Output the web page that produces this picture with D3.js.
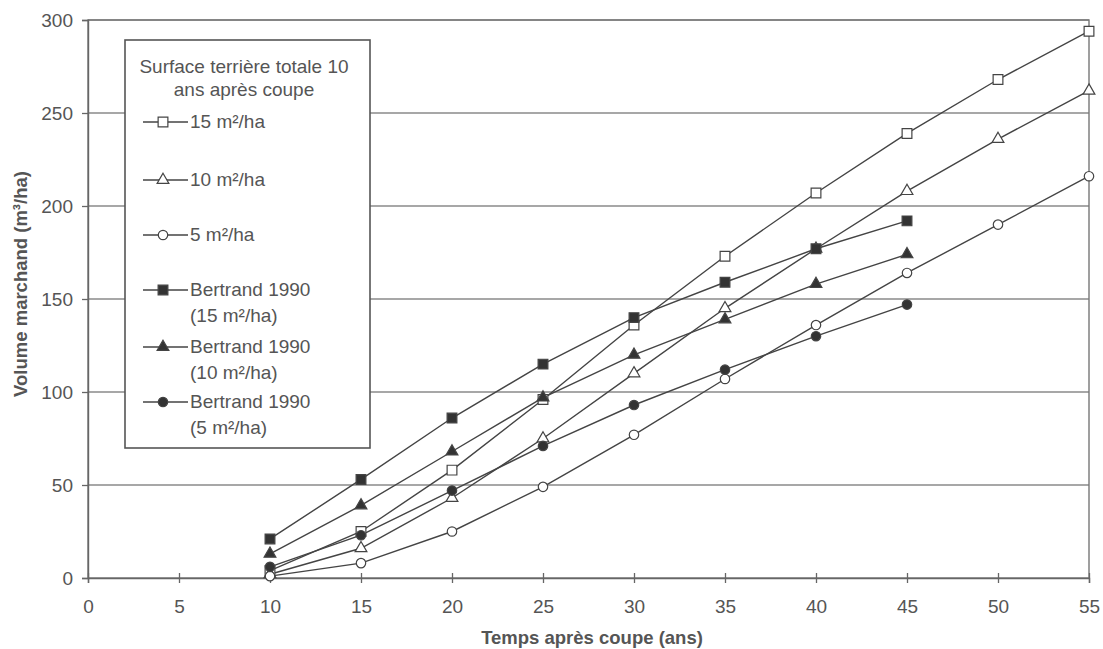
<!DOCTYPE html>
<html>
<head>
<meta charset="utf-8">
<script src="https://cdn.jsdelivr.net/npm/d3@7"></script>
<style>
  body { margin: 0; background: #fff; }
  svg text { font-family: "Liberation Sans", Arial, sans-serif; fill: #555; }
</style>
</head>
<body>
<svg id="chart" width="1103" height="649"></svg>
<script>
// values
var years = [10, 15, 20, 25, 30, 35, 40, 45, 50, 55];
var yearsBertrand = [10, 15, 20, 25, 30, 35, 40, 45];

var vol15 = [4, 25, 58, 96, 136, 173, 207, 239, 268, 294];
var vol10 = [2, 16, 43, 75, 110, 145, 177, 208, 236, 262];
var vol5 = [1, 8, 25, 49, 77, 107, 136, 164, 190, 216];
var bert15 = [21, 53, 86, 115, 140, 159, 177, 192];
var bert10 = [13, 39, 68, 97, 120, 139, 158, 174];
var bert5 = [6, 23, 47, 71, 93, 112, 130, 147];

var xTicks = [0, 5, 10, 15, 20, 25, 30, 35, 40, 45, 50, 55];
var yTicks = [0, 50, 100, 150, 200, 250, 300];

var series = [
  {label: ["15 m²/ha"], x: years, y: vol15, sym: d3.symbolSquare, filled: false},
  {label: ["10 m²/ha"], x: years, y: vol10, sym: d3.symbolTriangle, filled: false},
  {label: ["5 m²/ha"], x: years, y: vol5, sym: d3.symbolCircle, filled: false},
  {label: ["Bertrand 1990", "(15 m²/ha)"], x: yearsBertrand, y: bert15, sym: d3.symbolSquare, filled: true},
  {label: ["Bertrand 1990", "(10 m²/ha)"], x: yearsBertrand, y: bert10, sym: d3.symbolTriangle, filled: true},
  {label: ["Bertrand 1990", "(5 m²/ha)"], x: yearsBertrand, y: bert5, sym: d3.symbolCircle, filled: true}
];

var margin = {top: 20, right: 14, bottom: 71, left: 88},
    width = 1103 - margin.left - margin.right,
    height = 649 - margin.top - margin.bottom;

var svg = d3.select("#chart");
var chart = svg.append("g")
    .attr("transform", "translate(" + margin.left + "," + margin.top + ")");

var x = d3.scaleLinear().domain([0, 55]).range([0, width]);
var y = d3.scaleLinear().domain([0, 300]).range([height, 0]);

// gridlines
chart.selectAll(".grid")
    .data(yTicks.slice(1))
  .enter().append("line")
    .attr("x1", 0).attr("x2", width)
    .attr("y1", function(d) { return y(d); })
    .attr("y2", function(d) { return y(d); })
    .attr("stroke", "#8a8a8a")
    .attr("stroke-width", 1.4);

// frame
chart.append("rect")
    .attr("width", width).attr("height", height)
    .attr("fill", "none")
    .attr("stroke", "#777")
    .attr("stroke-width", 1.4);

var yAxis = d3.axisLeft(y).tickValues(yTicks).tickSize(6).tickPadding(9);
var xAxis = d3.axisBottom(x).tickValues(xTicks).tickSize(5).tickPadding(17);

var gy = chart.append("g").call(yAxis);
var gx = chart.append("g").attr("transform", "translate(0," + height + ")").call(xAxis);

[gy, gx].forEach(function(g) {
  g.select(".domain").attr("stroke", "#666").attr("stroke-width", 1.4);
  g.selectAll(".tick line").attr("stroke", "#666").attr("stroke-width", 1.3);
  g.selectAll(".tick text")
    .attr("fill", "#555")
    .style("font-size", "19px")
    .style("font-family", "Liberation Sans, Arial, sans-serif");
});
// x ticks cross the axis
gx.selectAll(".tick line").attr("y1", -5).attr("y2", 5);

// axis titles
svg.append("text")
    .attr("x", 592).attr("y", 644)
    .attr("text-anchor", "middle")
    .style("font-size", "18.5px").style("font-weight", "bold")
    .attr("fill", "#444")
    .text("Temps après coupe (ans)");

svg.append("text")
    .attr("transform", "translate(27,284) rotate(-90)")
    .attr("text-anchor", "middle")
    .style("font-size", "18.5px").style("font-weight", "bold")
    .attr("fill", "#444")
    .text("Volume marchand (m³/ha)");

// lines + markers
var line = d3.line()
    .x(function(d) { return x(d[0]); })
    .y(function(d) { return y(d[1]); });

function symSize(s) {
  if (s === d3.symbolSquare) return 95;
  if (s === d3.symbolTriangle) return 60;
  return 70;
}

series.forEach(function(s) {
  var pts = d3.zip(s.x, s.y);
  chart.append("path")
    .datum(pts)
    .attr("fill", "none")
    .attr("stroke", "#444")
    .attr("stroke-width", 1.4)
    .attr("d", line);
});
series.forEach(function(s) {
  var pts = d3.zip(s.x, s.y);
  chart.selectAll(null)
    .data(pts)
  .enter().append("path")
    .attr("transform", function(d) { return "translate(" + x(d[0]) + "," + y(d[1]) + ")"; })
    .attr("d", d3.symbol().type(s.sym).size(symSize(s.sym)))
    .attr("fill", s.filled ? "#333" : "#fff")
    .attr("stroke", "#444")
    .attr("stroke-width", 1.2);
});

// legend
var legend = svg.append("g");
legend.append("rect")
    .attr("x", 125).attr("y", 40)
    .attr("width", 245).attr("height", 408)
    .attr("fill", "#fff")
    .attr("stroke", "#555")
    .attr("stroke-width", 1.6);

legend.append("text")
    .attr("x", 244).attr("y", 73)
    .attr("text-anchor", "middle")
    .style("font-size", "19px")
    .text("Surface terrière totale 10");
legend.append("text")
    .attr("x", 244).attr("y", 96)
    .attr("text-anchor", "middle")
    .style("font-size", "19px")
    .text("ans après coupe");

var rowY = [122, 180, 235, 290, 347, 402];
series.forEach(function(s, i) {
  var g = legend.append("g").attr("transform", "translate(0," + rowY[i] + ")");
  g.append("line")
    .attr("x1", 143).attr("x2", 188)
    .attr("stroke", "#444").attr("stroke-width", 1.4);
  g.append("path")
    .attr("transform", "translate(163,0)")
    .attr("d", d3.symbol().type(s.sym).size(symSize(s.sym)))
    .attr("fill", s.filled ? "#333" : "#fff")
    .attr("stroke", "#444")
    .attr("stroke-width", 1.2);
  s.label.forEach(function(t, j) {
    g.append("text")
      .attr("x", 190).attr("y", 6 + j * 26)
      .style("font-size", "19px")
      .text(t);
  });
});
</script>
</body>
</html>
